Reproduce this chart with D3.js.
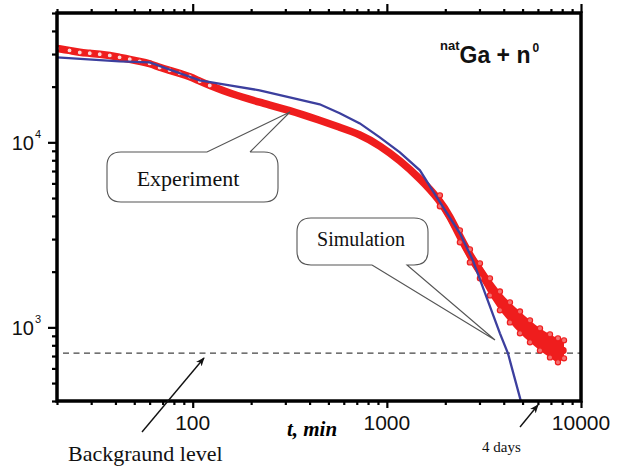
<!DOCTYPE html>
<html><head><meta charset="utf-8">
<script src="https://cdn.jsdelivr.net/npm/d3@7"></script>
<style>body{margin:0;background:#fff}svg{display:block}</style>
</head><body>
<svg id="c" width="622" height="468"></svg>
<script>
// Experiment (centre of the red band), t in min, counts
const expT = [20,23.2,26.2,29.5,33.2,37.4,42,47.4,53.3,60,67.6,76.1,85.7,96.5,108.7,122.4,155,221,316,451,572,726,920,1167,1480,1876,2112,2378,2678,3016,3396,3823,4305,4849,5460,6148,6923,7610,8075];
const expN = [32200,31400,30600,30300,29900,29500,28800,28100,27400,26700,25400,24500,23600,22700,21400,20300,18400,16450,14900,13150,12050,11050,9630,7990,6390,4860,3980,3100,2450,2030,1650,1400,1205,1064,940,850,800,750,750];
// Scatter envelope of the experimental tail
const tailT  = [1876,2378,2678,3016,3396,3823,4305,4849,5460,6148,6923,7610,8173];
const tailHi = [5170,3345,2640,2218,1840,1565,1365,1220,1091,988,917,872,851];
const tailLo = [4510,2880,2245,1840,1489,1236,1064,928,830,751,688,647,680];
// Simulation
const simT = [20,42,60,108.7,155,221,316,451,572,726,920,1167,1480,1810,2378,2775,3823,4205,4906];
const simN = [28800,27400,27070,21630,20330,19100,17510,16050,14350,12660,10640,8830,7060,5040,3222,2302,928,724,398];
const background = 726;
const xMajor = [100,1000,10000];
const xMinor = [20,30,40,50,60,70,80,90,200,300,400,500,600,700,800,900,2000,3000,4000,5000,6000,7000,8000,9000];
const yMajor = [1000,10000];
const yMajorExp = ["3","4"];
const yMinor = [400,500,600,700,800,900,2000,3000,4000,5000,6000,7000,8000,9000,20000,30000,40000,50000];

const svg = d3.select("#c");
const L=57,R=581,T=13,B=401;
const x = d3.scaleLog().domain([20,10000]).range([L,R]);
const y = d3.scaleLog().domain([400,50000]).range([B,T]);
const red="#ef1d1d", blue="#3c3f9e";

const plot = svg.append("g");
plot.append("clipPath").attr("id","clip").append("rect").attr("x",L).attr("y",T).attr("width",R-L).attr("height",B-T);
const g = plot.append("g").attr("clip-path","url(#clip)");

// background level
g.append("line").attr("x1",L+6).attr("x2",R).attr("y1",y(background)).attr("y2",y(background))
 .attr("stroke","#444").attr("stroke-width",1.4).attr("stroke-dasharray","6,4.5");

// experiment band
const expPts = expT.map((t,i)=>[t,expN[i]]);
const ln = d3.line().x(d=>x(d[0])).y(d=>y(d[1])).curve(d3.curveBasis);
g.append("path").datum(expPts)
 .attr("d",ln).attr("fill","none").attr("stroke",red).attr("stroke-width",7.5).attr("stroke-linecap","round");
const tail = tailT.map((t,i)=>[t,tailHi[i],tailLo[i]]);
g.append("path").datum(tail)
 .attr("d",d3.area().x(d=>x(d[0])).y0(d=>y(d[2])).y1(d=>y(d[1])).curve(d3.curveMonotoneX))
 .attr("fill",red);
// open circles on the left part
g.selectAll("circle.e").data(expPts.filter(d=>d[0]<=125)).enter().append("circle")
 .attr("cx",d=>x(d[0])).attr("cy",d=>y(d[1])).attr("r",2.5)
 .attr("fill","#fcd6d6").attr("stroke",red).attr("stroke-width",1.1);
const tailC = [];
tail.forEach(d=>{tailC.push([d[0],d[1]]);tailC.push([d[0],d[2]]);});
g.selectAll("circle.t").data(tailC).enter().append("circle")
 .attr("cx",d=>x(d[0])).attr("cy",d=>y(d[1])).attr("r",2.6)
 .attr("fill","#f47070").attr("stroke",red).attr("stroke-width",1.2);

// simulation
g.append("path").datum(simT.map((t,i)=>[t,simN[i]]))
 .attr("d",d3.line().x(d=>x(d[0])).y(d=>y(d[1])))
 .attr("fill","none").attr("stroke",blue).attr("stroke-width",2.3);

// axes
function ticks(gen, vals, len, tr){
  const a = svg.append("g").attr("transform",tr)
   .call(gen.tickValues(vals).tickSize(len).tickFormat(""));
  a.select(".domain").remove();
  a.selectAll("line").attr("stroke","#000").attr("stroke-width",2.2);
}
ticks(d3.axisLeft(y), yMajor, 9, `translate(${L},0)`);
ticks(d3.axisLeft(y), yMinor, 5, `translate(${L},0)`);
ticks(d3.axisTop(x), xMajor, 9, `translate(0,${T})`);
ticks(d3.axisTop(x), xMinor, 4, `translate(0,${T})`);
ticks(d3.axisBottom(x), xMajor, 7, `translate(0,${B})`);
ticks(d3.axisBottom(x), xMinor, 4, `translate(0,${B})`);
svg.append("rect").attr("x",L).attr("y",T).attr("width",R-L).attr("height",B-T)
 .attr("fill","none").attr("stroke","#000").attr("stroke-width",3.5);

const sans="'Liberation Sans',Arial,sans-serif", serif="'Liberation Serif','Times New Roman',serif";
svg.selectAll("text.xl").data(xMajor).enter().append("text")
 .attr("x",d=>x(d)).attr("y",430).attr("text-anchor","middle")
 .attr("font-family",sans).attr("font-size",21).attr("fill","#111").text(d=>d);
yMajor.forEach((v,i)=>{
  svg.append("text").attr("x",34).attr("y",y(v)+8).attr("text-anchor","end")
   .attr("font-family",sans).attr("font-size",20).attr("fill","#111").text("10");
  svg.append("text").attr("x",35).attr("y",y(v)-4)
   .attr("font-family",sans).attr("font-size",11).attr("fill","#111").text(yMajorExp[i]);
});

// axis title
svg.append("text").attr("x",312).attr("y",436).attr("text-anchor","middle")
 .attr("font-family",serif).attr("font-size",21).attr("font-weight","bold").attr("font-style","italic").text("t, min");

// reaction label
const rl = svg.append("text").attr("x",440).attr("y",63).attr("font-family",sans).attr("font-weight","bold").attr("fill","#111");
rl.append("tspan").attr("font-size",13).attr("dy",-13).text("nat");
rl.append("tspan").attr("font-size",23).attr("dy",13).text("Ga + n");
rl.append("tspan").attr("font-size",12).attr("dy",-11).attr("dx",2).text("0");

// callouts
function callout(x0,y0,x1,y1,r,pa,pb,tip){
  const p = d3.path();
  p.moveTo(pb,y0); p.lineTo(x1-r,y0); p.quadraticCurveTo(x1,y0,x1,y0+r);
  p.lineTo(x1,y1-r); p.quadraticCurveTo(x1,y1,x1-r,y1);
  p.lineTo(x0+r,y1); p.quadraticCurveTo(x0,y1,x0,y1-r);
  p.lineTo(x0,y0+r); p.quadraticCurveTo(x0,y0,x0+r,y0);
  p.lineTo(pa,y0); p.lineTo(tip[0],tip[1]); p.lineTo(pb,y0);
  svg.append("path").attr("d",p.toString()).attr("fill","none").attr("stroke","#555").attr("stroke-width",1.1);
}
callout(107,152,278,202,14,207,250,[290,112]);
svg.append("text").attr("x",188).attr("y",186).attr("text-anchor","middle")
 .attr("font-family",serif).attr("font-size",22).attr("fill","#111").text("Experiment");
(function(){
  const x0=297,y0=218,x1=428,y1=265,r=14,pa=372,pb=407,tip=[495,340];
  const p=d3.path();
  p.moveTo(pa,y1); p.lineTo(x0+r,y1); p.quadraticCurveTo(x0,y1,x0,y1-r);
  p.lineTo(x0,y0+r); p.quadraticCurveTo(x0,y0,x0+r,y0);
  p.lineTo(x1-r,y0); p.quadraticCurveTo(x1,y0,x1,y0+r);
  p.lineTo(x1,y1-r); p.quadraticCurveTo(x1,y1,x1-r,y1);
  p.lineTo(pb,y1); p.lineTo(tip[0],tip[1]); p.lineTo(pa,y1);
  svg.append("path").attr("d",p.toString()).attr("fill","none").attr("stroke","#555").attr("stroke-width",1.1);
})();
svg.append("text").attr("x",361).attr("y",246).attr("text-anchor","middle")
 .attr("font-family",serif).attr("font-size",20).attr("fill","#111").text("Simulation");

// arrows
svg.append("defs").append("marker").attr("id","ah").attr("viewBox","0 0 10 10").attr("refX",9).attr("refY",5)
 .attr("markerWidth",9).attr("markerHeight",9).attr("orient","auto").attr("markerUnits","userSpaceOnUse")
 .append("path").attr("d","M0,1 L10,5 L0,9 L3,5 Z").attr("fill","#111");
svg.append("line").attr("x1",142).attr("y1",432).attr("x2",204).attr("y2",358)
 .attr("stroke","#111").attr("stroke-width",1.4).attr("marker-end","url(#ah)");
svg.append("line").attr("x1",520).attr("y1",427).attr("x2",538).attr("y2",405)
 .attr("stroke","#111").attr("stroke-width",1.4).attr("marker-end","url(#ah)");
svg.append("text").attr("x",68).attr("y",461).attr("font-family",serif).attr("font-size",22).attr("fill","#111").text("Backgraund level");
svg.append("text").attr("x",482).attr("y",452).attr("font-family",serif).attr("font-size",15).attr("fill","#111").text("4 days");
</script>
</body></html>
